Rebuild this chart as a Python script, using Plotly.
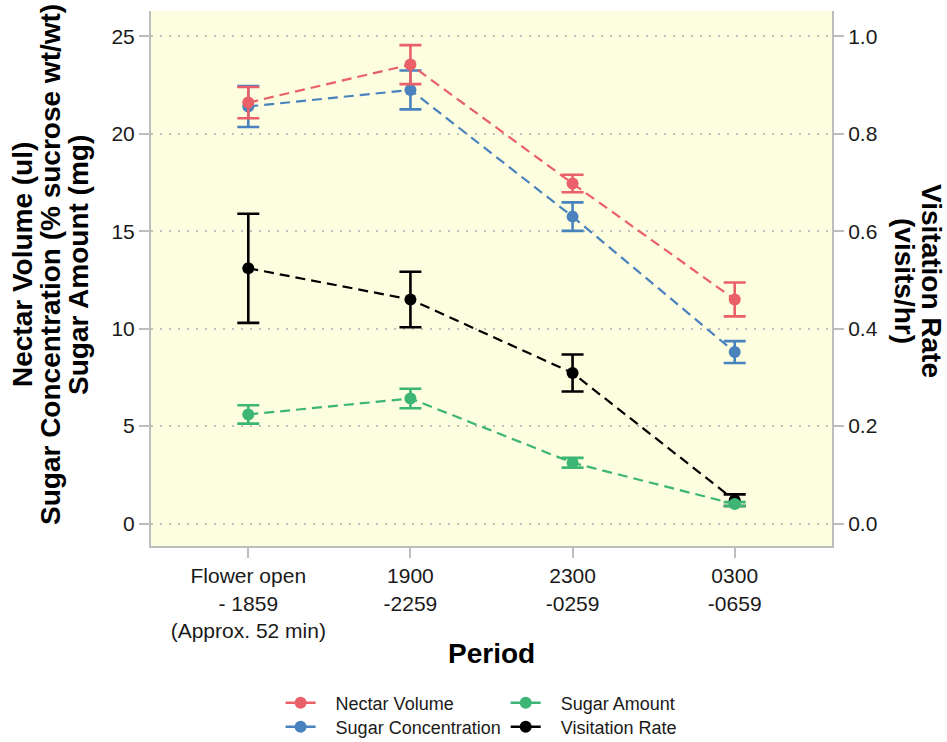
import plotly.graph_objects as go

periods = ["Flower open<br>- 1859<br>(Approx. 52 min)", "1900<br>-2259", "2300<br>-0259", "0300<br>-0659"]

nectar_volume = [21.6, 23.55, 17.45, 11.5]
nectar_volume_err = [0.8, 1.0, 0.45, 0.87]

sugar_conc = [21.4, 22.25, 15.75, 8.8]
sugar_conc_err = [1.05, 1.0, 0.73, 0.56]

sugar_amount = [5.6, 6.42, 3.12, 1.0]
sugar_amount_err = [0.47, 0.5, 0.25, 0.1]

visitation = [0.524, 0.46, 0.309, 0.048]
visitation_err = [0.112, 0.057, 0.038, 0.012]

left_title_lines = ["Nectar Volume (ul)", "Sugar Concentration (% sucrose wt/wt)", "Sugar Amount (mg)"]
right_title_lines = ["Visitation Rate", "(visits/hr)"]
x_title = "Period"

RED = "#EA6068"
BLUE = "#4A82BE"
GREEN = "#3DB574"
BLACK = "#000000"

W, H = 947, 742
L, R, T, B = 151, 115, 11, 196
PW, PH = W - L - R, H - T - B
Y_RANGE = [-1.15, 26.3]
RATE_SCALE = 25

fig = go.Figure()

def add(name, y, err, color, yaxis):
    fig.add_trace(go.Scatter(
        x=periods, y=y, name=name, mode="lines+markers",
        line=dict(color=color, width=2.2, dash="10px,6px"),
        marker=dict(color=color, size=12),
        error_y=dict(type="data", array=err, visible=True, color=color, thickness=2.6, width=11),
        yaxis=yaxis, showlegend=False,
    ))

def add_legend(name, color, legend):
    fig.add_trace(go.Scatter(
        x=[None], y=[None], name="&nbsp;&nbsp;&nbsp;" + name, mode="lines+markers",
        line=dict(color=color, width=2.6), marker=dict(color=color, size=12),
        legend=legend,
    ))

add("Sugar Concentration", sugar_conc, sugar_conc_err, BLUE, "y")
add("Nectar Volume", nectar_volume, nectar_volume_err, RED, "y")
add("Visitation Rate", visitation, visitation_err, BLACK, "y2")
add("Sugar Amount", sugar_amount, sugar_amount_err, GREEN, "y3")

add_legend("Nectar Volume", RED, "legend")
add_legend("Sugar Concentration", BLUE, "legend2")
add_legend("Sugar Amount", GREEN, "legend3")
add_legend("Visitation Rate", BLACK, "legend4")

axis_grey = "#BDBDBD"
font_family = "Liberation Sans, Arial, sans-serif"
tick_font = dict(size=21, color="#1a1a1a")
title_font = dict(size=28, color="#000")

def px_x(px):
    return (px - L) / PW

def px_y(py):
    return (H - B - py) / PH

annotations = []
for text, cx in zip(left_title_lines, [22, 50, 78]):
    annotations.append(dict(
        text=f"<b>{text}</b>", xref="paper", yref="paper",
        x=px_x(cx), y=px_y(265), xanchor="center", yanchor="middle",
        textangle=-90, showarrow=False, font=title_font,
    ))
for text, cx in zip(right_title_lines, [932, 905]):
    annotations.append(dict(
        text=f"<b>{text}</b>", xref="paper", yref="paper",
        x=px_x(cx), y=px_y(281), xanchor="center", yanchor="middle",
        textangle=90, showarrow=False, font=title_font,
    ))
annotations.append(dict(
    text=f"<b>{x_title}</b>", xref="paper", yref="paper",
    x=px_x(491), y=px_y(653), xanchor="center", yanchor="middle",
    showarrow=False, font=title_font,
))

def legend_at(xc, yc):
    return dict(
        xref="container", yref="container", x=xc, y=1 - yc / H,
        xanchor="left", yanchor="middle", orientation="v",
        font=dict(size=18, color="#1a1a1a"), bgcolor="rgba(0,0,0,0)",
        itemwidth=30,
    )

fig.update_layout(
    width=W, height=H,
    margin=dict(l=L, r=R, t=T, b=B, autoexpand=False),
    paper_bgcolor="white",
    plot_bgcolor="#FDFDE0",
    font=dict(family=font_family, size=18, color="#1a1a1a"),
    xaxis=dict(
        type="category", range=[-0.6, 3.6], automargin=False, tickangle=0,
        showline=True, linecolor=axis_grey, linewidth=2,
        ticks="outside", ticklen=10, tickwidth=2, tickcolor=axis_grey,
        showgrid=False, zeroline=False, tickfont=tick_font,
    ),
    yaxis=dict(
        range=Y_RANGE, automargin=False,
        tickvals=[0, 5, 10, 15, 20, 25],
        showline=True, linecolor=axis_grey, linewidth=2,
        ticks="outside", ticklen=10, tickwidth=2, tickcolor=axis_grey,
        showgrid=True, gridcolor="#BFBFBF", griddash="2px,7px", gridwidth=1.5,
        zeroline=False, tickfont=tick_font,
    ),
    yaxis2=dict(
        range=[v / RATE_SCALE for v in Y_RANGE], automargin=False,
        tickvals=[0, 0.2, 0.4, 0.6, 0.8, 1.0],
        ticktext=["0.0", "0.2", "0.4", "0.6", "0.8", "1.0"],
        overlaying="y", side="right",
        showline=True, linecolor=axis_grey, linewidth=2,
        ticks="outside", ticklen=10, tickwidth=2, tickcolor=axis_grey,
        showgrid=False, zeroline=False, tickfont=tick_font,
    ),
    yaxis3=dict(
        range=Y_RANGE, overlaying="y", visible=False, automargin=False,
        showgrid=False, zeroline=False,
    ),
    legend=legend_at(0.2963, 703),
    legend2=legend_at(0.2963, 727),
    legend3=legend_at(0.534, 703),
    legend4=legend_at(0.534, 727),
    annotations=annotations,
)

fig.write_html("out.html", post_script="document.body.style.margin='0';",
               config={"displayModeBar": False})
